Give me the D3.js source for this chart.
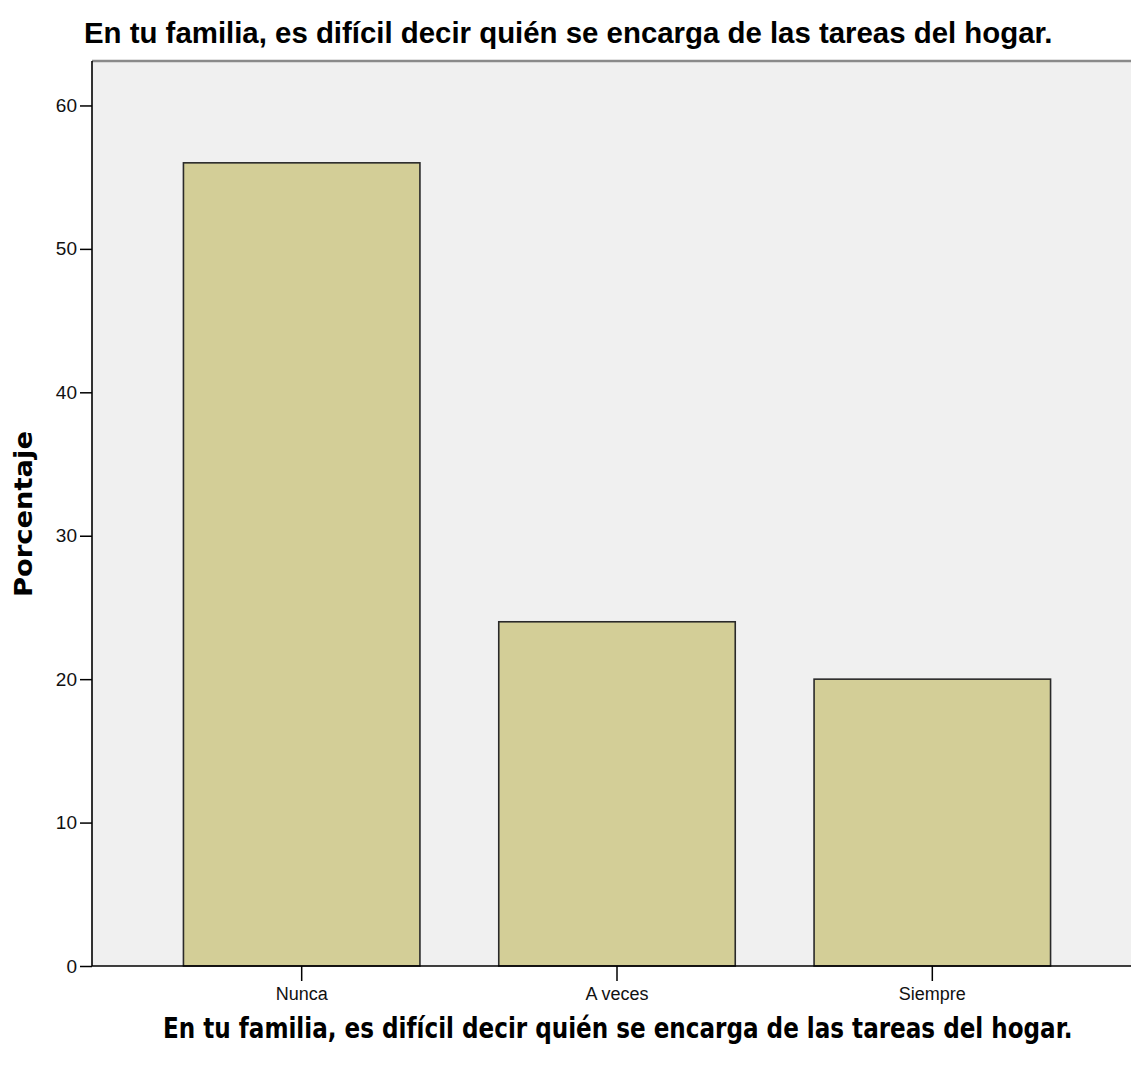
<!DOCTYPE html>
<html>
<head>
<meta charset="utf-8">
<script src="https://cdn.jsdelivr.net/npm/d3@7"></script>
<style>
  body { margin: 0; background: #fff; }
  svg { display: block; }
</style>
</head>
<body>
<div class="page-svg"></div>
<script>
// data
const categories = ['Nunca', 'A veces', 'Siempre']
const percentages = [56, 24, 20]
const yTicks = [0, 10, 20, 30, 40, 50, 60]
const chartTitle = 'En tu familia, es difícil decir quién se encarga de las tareas del hogar.'
const yLabel = 'Porcentaje'

const width = 1131,
      height = 1066,
      margin = {top: 61, right: -12, bottom: 100, left: 92}

const svg = d3.select('.page-svg').append('svg')
  .attr('width', width)
  .attr('height', height)

const x = d3.scaleBand()
  .domain(categories)
  .range([margin.left, margin.left + 1050])
  .paddingInner(0.25)
  .paddingOuter(0.29)

const y = d3.scaleLinear()
  .domain([0, 63.1])
  .range([height - margin.bottom, margin.top])

// plot background
svg.append('rect')
  .attr('x', margin.left)
  .attr('y', margin.top)
  .attr('width', width - margin.left + 10)
  .attr('height', y(0) - margin.top)
  .attr('fill', '#f0f0f0')

// top frame line
svg.append('line')
  .attr('x1', margin.left)
  .attr('x2', width + 5)
  .attr('y1', margin.top)
  .attr('y2', margin.top)
  .attr('stroke', '#8a8a8a')
  .attr('stroke-width', 2.5)

// bars
svg.append('g')
  .selectAll('rect')
  .data(percentages)
  .join('rect')
    .attr('x', (d, i) => x(categories[i]))
    .attr('y', d => y(d))
    .attr('width', x.bandwidth())
    .attr('height', d => y(0) - y(d))
    .attr('fill', '#d3ce97')
    .attr('stroke', '#2a2a2a')
    .attr('stroke-width', 1.6)

// y axis
const yAxis = d3.axisLeft(y)
  .tickValues(yTicks)
  .tickSize(12)
  .tickPadding(3)
  .tickSizeOuter(0)

const gy = svg.append('g')
  .attr('transform', `translate(${margin.left},0)`)
  .call(yAxis)
gy.select('.domain').attr('stroke', '#000').attr('stroke-width', 1.6)
  .attr('d', `M0,${margin.top}V${y(0)}`)
gy.selectAll('.tick line').attr('stroke', '#000').attr('stroke-width', 1.5)
gy.selectAll('.tick text')
  .attr('font-family', '"Liberation Sans", Arial, sans-serif')
  .attr('font-size', 19)
  .attr('fill', '#111')

// x axis
const xAxis = d3.axisBottom(x)
  .tickSize(15)
  .tickPadding(6)
  .tickSizeOuter(0)

const gx = svg.append('g')
  .attr('transform', `translate(0,${y(0)})`)
  .call(xAxis)
gx.select('.domain').attr('stroke', '#000').attr('stroke-width', 1.6)
  .attr('d', `M${margin.left},0H${width + 5}`)
gx.selectAll('.tick line').attr('stroke', '#000').attr('stroke-width', 1.5)
gx.selectAll('.tick text')
  .attr('font-family', '"Liberation Sans", Arial, sans-serif')
  .attr('font-size', 18)
  .attr('fill', '#111')

// squeezed title: natural text scaled horizontally to the wanted width
const squeezedText = (x0, y0, w, family, size, str) => {
  const g = svg.append('g')
  const t = g.append('text')
    .attr('font-family', family)
    .attr('font-weight', 'bold')
    .attr('font-size', size)
    .text(str)
  const natural = t.node().getComputedTextLength()
  g.attr('transform', `translate(${x0},${y0}) scale(${w / natural},1)`)
  return t
}

squeezedText(84, 43, 969, '"Liberation Sans", Arial, sans-serif', 30, chartTitle)
squeezedText(163, 1038, 910, '"DejaVu Sans", Verdana, sans-serif', 28, chartTitle)

svg.append('text')
  .attr('transform', 'translate(32,514) rotate(-90)')
  .attr('text-anchor', 'middle')
  .attr('font-family', '"DejaVu Sans", Verdana, sans-serif')
  .attr('font-weight', 'bold')
  .attr('font-size', 24)
  .attr('textLength', 166)
  .attr('lengthAdjust', 'spacingAndGlyphs')
  .text(yLabel)
</script>
</body>
</html>
